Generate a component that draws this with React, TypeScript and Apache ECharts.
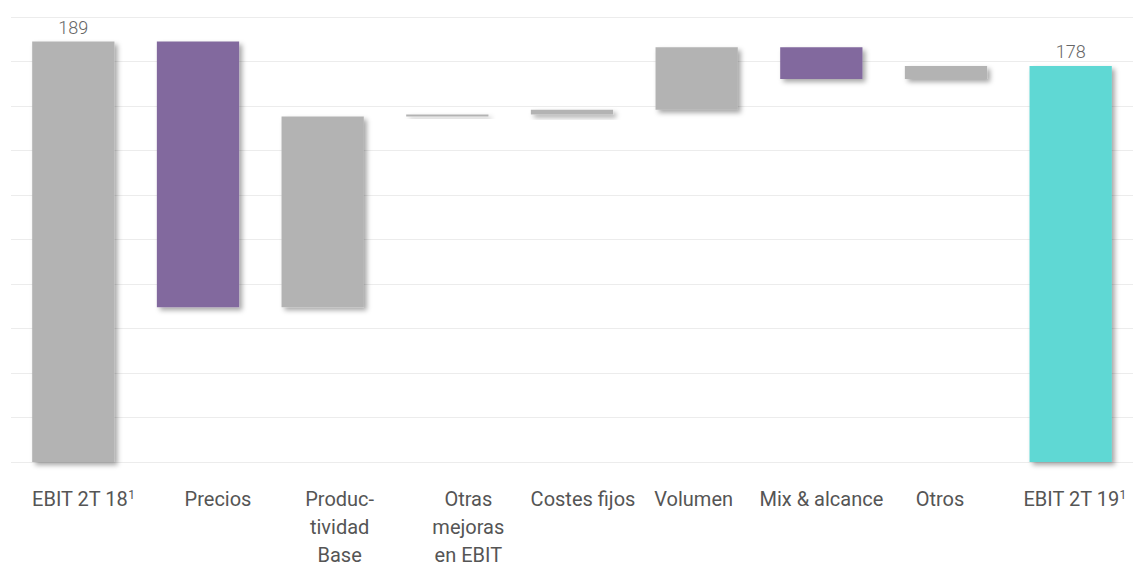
import React, { useEffect, useRef } from "react";
import * as echarts from "echarts";

const categories = [
  "EBIT 2T 18¹",
  "Precios",
  "Produc-\ntividad\nBase",
  "Otras\nmejoras\nen EBIT",
  "Costes fijos",
  "Volumen",
  "Mix & alcance",
  "Otros",
  "EBIT 2T 19¹",
];
const startTotal = 189;
const changes = [-119.4, 85.7, 0.9, 2.1, 28.1, -14.3, 5.9];
const endTotal = 178;
const yTicks = { min: 0, max: 200, interval: 20 };

// horizontal nudge of each category label (px), as in the source slide
const labelShift = [10, 20, 17, 21, 11, -3, 0, -6, 4];

const GRAY = "#b3b3b3";
const PURPLE = "#82699e";
const CYAN = "#5fd8d4";
const changeColors = [PURPLE, GRAY, GRAY, GRAY, GRAY, PURPLE, GRAY];

export default function App() {
  const ref = useRef<HTMLDivElement>(null);
  useEffect(() => {
    if (!ref.current) return;
    const chart = echarts.init(ref.current, undefined, { renderer: "svg" });

    const base: number[] = [0];
    const heights: number[] = [startTotal];
    let level = startTotal;
    changes.forEach((c) => {
      const next = level + c;
      base.push(Math.min(level, next));
      heights.push(Math.abs(c));
      level = next;
    });
    base.push(0);
    heights.push(endTotal);
    const colors = [GRAY, ...changeColors, CYAN];
    const labels: (number | null)[] = categories.map((_, i) =>
      i === 0 ? startTotal : i === categories.length - 1 ? endTotal : null
    );

    chart.setOption({
      animation: false,
      grid: { left: 11, right: -3, top: 17, bottom: 106 },
      xAxis: {
        type: "category",
        data: categories.map((c, i) => {
          const s = labelShift[i];
          return {
            value: c,
            textStyle: {
              padding: s >= 0 ? [0, 0, 0, 2 * s] : [0, -2 * s, 0, 0],
            },
          };
        }),
        axisTick: { show: false },
        axisLine: {
          lineStyle: {
            color: "#aaaaaa",
            width: 2,
            shadowColor: "rgba(0,0,0,0.2)",
            shadowBlur: 3,
            shadowOffsetY: 2,
          },
        },
        axisLabel: {
          interval: 0,
          color: "#555555",
          fontFamily: "Roboto",
          fontSize: 20,
          lineHeight: 28,
          margin: 23,
          formatter: (v: string) => v.replace("¹", "{sup|1}"),
          rich: {
            sup: {
              fontFamily: "Roboto",
              fontSize: 12,
              color: "#555555",
              padding: [0, 0, 9, 0],
            },
          },
        },
      },
      yAxis: {
        type: "value",
        min: yTicks.min,
        max: yTicks.max,
        interval: yTicks.interval,
        axisLabel: { show: false },
        axisLine: { show: false },
        axisTick: { show: false },
        splitLine: { lineStyle: { color: "#ececec", width: 1 } },
      },
      series: [
        {
          type: "bar",
          stack: "w",
          data: base,
          barWidth: "66%",
          itemStyle: { color: "transparent" },
          emphasis: { disabled: true },
          silent: true,
        },
        {
          type: "bar",
          stack: "w",
          barWidth: "66%",
          data: heights.map((h, i) => ({
            value: h,
            itemStyle: { color: colors[i] },
          })),
          itemStyle: {
            shadowColor: "rgba(0,0,0,0.35)",
            shadowBlur: 5,
            shadowOffsetX: 3,
            shadowOffsetY: 3,
          },
          label: {
            show: true,
            position: "top",
            distance: 5,
            color: "#666666",
            fontFamily: "Roboto",
            fontWeight: 300,
            fontSize: 18,
            formatter: (p: any) => {
              const v = labels[p.dataIndex];
              return v == null ? "" : String(v);
            },
          },
        },
      ],
    });
    return () => chart.dispose();
  }, []);
  return (
    <div
      ref={ref}
      style={{ position: "absolute", left: 0, top: 0, width: 1133, height: 569 }}
    />
  );
}
